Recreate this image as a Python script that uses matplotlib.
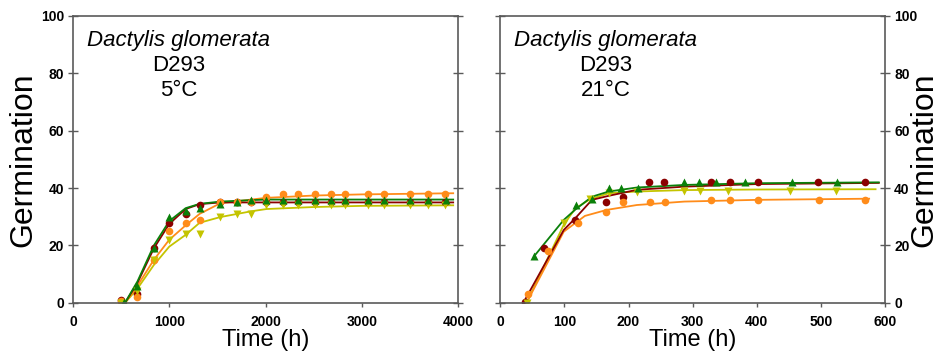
import matplotlib
matplotlib.use("Agg")
import matplotlib.pyplot as plt

plt.rcParams['font.family'] = ['Liberation Sans', 'DejaVu Sans']

# ---------------- Data: 5 °C panel ----------------
t5_red = [500, 670, 840, 1000, 1170, 1315, 1530, 1700, 1850, 2010, 2180, 2340, 2510, 2680, 2830, 3070, 3230, 3500, 3690, 3860]
g5_red = [1, 3, 19, 28, 31, 34, 35, 35, 35, 35, 35, 35, 35, 35, 35, 35, 35, 35, 35, 35]
t5_org = [500, 670, 840, 1000, 1170, 1315, 1530, 1700, 1850, 2010, 2180, 2340, 2510, 2680, 2830, 3070, 3230, 3500, 3690, 3860]
g5_org = [0.5, 2, 15, 25, 28, 29, 35, 35, 35, 37, 38, 38, 38, 38, 38, 38, 38, 38, 38, 38]
t5_grn = [530, 670, 840, 1000, 1170, 1315, 1530, 1700, 1850, 2010, 2180, 2340, 2510, 2680, 2830, 3070, 3230, 3500, 3690, 3880]
g5_grn = [0.3, 6, 19, 30, 32, 33, 34.4, 35, 36, 36, 36, 36, 36, 36, 36, 36, 36, 36, 36, 36]
t5_yel = [500, 670, 840, 1000, 1170, 1315, 1530, 1700, 1850, 2010, 2180, 2340, 2510, 2680, 2830, 3070, 3230, 3500, 3690, 3860]
g5_yel = [0, 4, 15, 22, 24, 24, 30, 31, 31, 34, 34, 34, 34, 34, 34, 34, 34, 34, 34, 34]

# fitted curves (5 °C)
f5_t = [540, 670, 840, 1000, 1170, 1315, 1530, 1850, 2010, 2500, 3000, 3950]
f5_red = [0, 7, 19, 27.5, 32.7, 34.4, 35, 35, 35, 35, 35, 35]
f5_grn = [0, 7.5, 20, 28.5, 33, 34.5, 35.3, 35.8, 36, 36, 36, 36]
f5_org = [0, 6, 15, 22, 27, 31, 34.7, 36, 36.6, 37.4, 37.8, 38.2]
f5_yel = [0, 5, 13.2, 19.6, 23.7, 27.9, 29.9, 31.9, 32.7, 33.4, 33.8, 34]

# ---------------- Data: 21 °C panel ----------------
t21_red = [39, 68, 116, 165, 191, 232, 256, 328, 358, 402, 496, 568]
g21_red = [0.2, 19, 29, 35, 37, 42, 42, 42, 42, 42, 42, 42]
t21_org = [44, 74, 122, 165, 191, 234, 257, 329, 358, 401, 497, 568]
g21_org = [3, 18, 28, 31.6, 35, 35.3, 35.3, 36, 36, 36, 36, 36]
t21_grn = [53, 118, 143, 170, 189, 214, 287, 310, 337, 382, 455, 525]
g21_grn = [16.3, 34.1, 36.2, 40, 40, 40, 42, 42, 42, 42, 42, 42]
t21_yel = [42, 99, 140, 169, 213, 287, 311, 355, 452, 524]
g21_yel = [0, 28, 36.1, 38.2, 38.8, 39, 39, 39, 39, 39]

# fitted curves (21 °C)
f21_red_t = [36, 99, 117, 143, 169, 213, 287, 400, 590]
f21_red = [0, 25.4, 29.5, 35.9, 37.3, 39.4, 40.5, 41.4, 41.8]
f21_grn_t = [53, 99, 117, 143, 169, 213, 287, 400, 590]
f21_grn = [16.3, 28.9, 32.5, 37, 38.8, 40.2, 41.1, 41.7, 42]
f21_org_t = [41, 99, 132, 166, 213, 287, 400, 575]
f21_org = [0, 24.8, 30.3, 32.4, 34.1, 35.3, 35.9, 36.3]
f21_yel_t = [41, 99, 117, 140, 169, 213, 287, 400, 585]
f21_yel = [0, 27.2, 32.9, 36.1, 38.2, 38.8, 39.3, 39.5, 39.6]

C_RED = '#8B0000'
C_ORG = '#FF8C1A'
C_GRN = '#0A800A'
C_YEL = '#C4C400'

fig = plt.figure(figsize=(9.42, 3.61), dpi=100)
ax1 = fig.add_axes([0.0775, 0.161, 0.4087, 0.795])
ax2 = fig.add_axes([0.531, 0.161, 0.4087, 0.795])

def style(ax, xmax, xstep, right):
    ax.set_xlim(0, xmax)
    ax.set_ylim(0, 100)
    ax.set_xticks(range(0, xmax + 1, xstep))
    ax.set_yticks(range(0, 101, 20))
    for s in ax.spines.values():
        s.set_color('#5a5a5a')
        s.set_linewidth(1.2)
    ax.tick_params(axis='x', direction='out', length=3, width=1, color='#5a5a5a',
                   labelsize=10, pad=6)
    ax.tick_params(axis='y', direction='inout', length=7, width=1, color='#5a5a5a',
                   labelsize=10, left=True, right=True,
                   labelleft=not right, labelright=right, pad=3)
    for lab in ax.get_xticklabels() + ax.get_yticklabels():
        lab.set_fontweight('bold')
    ax.set_xlabel('Time (h)', fontsize=17, labelpad=0)
    if right:
        ax.yaxis.set_label_position('right')
        ax.set_ylabel('Germination', fontsize=23, labelpad=-6)
    else:
        ax.set_ylabel('Germination', fontsize=23, labelpad=2)

ms = 5.5
lw = 1.3

# left panel
ax = ax1
ax.plot(f5_t, f5_yel, color=C_YEL, lw=lw)
ax.plot(f5_t, f5_org, color=C_ORG, lw=lw)
ax.plot(f5_t, f5_red, color=C_RED, lw=lw)
ax.plot(f5_t, f5_grn, color=C_GRN, lw=lw)
ax.plot(t5_red, g5_red, 'o', color=C_RED, ms=ms, mec='none')
ax.plot(t5_org, g5_org, 'o', color=C_ORG, ms=ms, mec='none')
ax.plot(t5_yel, g5_yel, 'v', color=C_YEL, ms=ms, mec='none')
ax.plot(t5_grn, g5_grn, '^', color=C_GRN, ms=ms, mec='none')
style(ax, 4000, 1000, False)

# right panel
ax = ax2
ax.plot(f21_yel_t, f21_yel, color=C_YEL, lw=lw)
ax.plot(f21_org_t, f21_org, color=C_ORG, lw=lw)
ax.plot(f21_red_t, f21_red, color=C_RED, lw=lw)
ax.plot(f21_grn_t, f21_grn, color=C_GRN, lw=lw)
ax.plot(t21_red, g21_red, 'o', color=C_RED, ms=ms, mec='none')
ax.plot(t21_org, g21_org, 'o', color=C_ORG, ms=ms, mec='none')
ax.plot(t21_yel, g21_yel, 'v', color=C_YEL, ms=ms, mec='none')
ax.plot(t21_grn, g21_grn, '^', color=C_GRN, ms=ms, mec='none')
style(ax, 600, 100, True)

for ax, temp in ((ax1, '5°C'), (ax2, '21°C')):
    cx = 0.274
    ax.text(cx, 0.895, 'Dactylis glomerata', transform=ax.transAxes, ha='center',
            va='baseline', fontsize=16, style='italic')
    ax.text(cx, 0.808, 'D293', transform=ax.transAxes, ha='center', va='baseline', fontsize=16)
    ax.text(cx, 0.721, temp, transform=ax.transAxes, ha='center', va='baseline', fontsize=16)

fig.savefig('out.png', dpi=100)
